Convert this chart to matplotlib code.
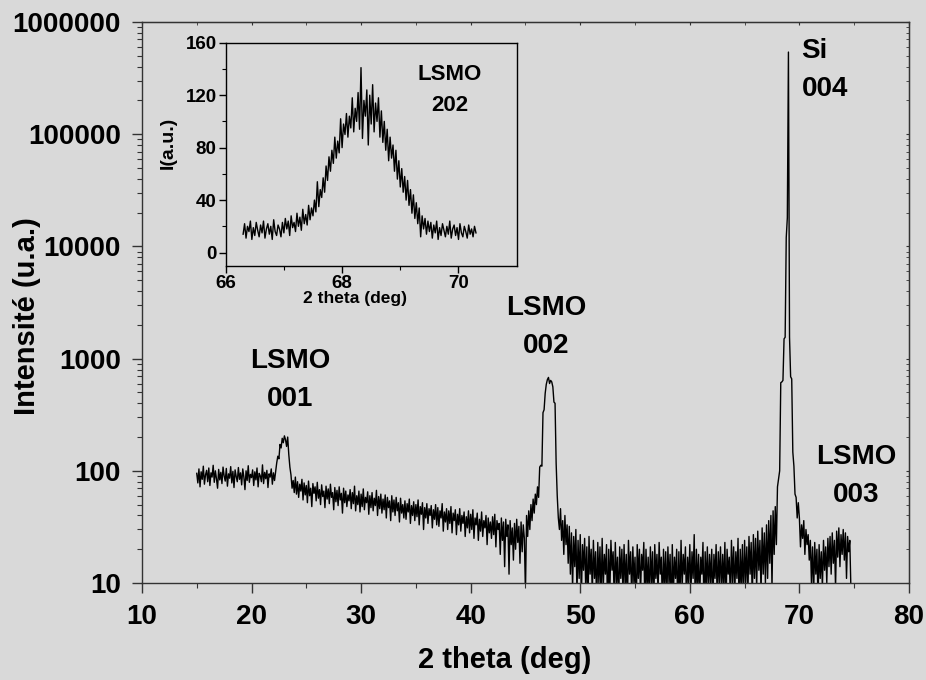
import numpy as np
import matplotlib
matplotlib.use('Agg')
import matplotlib.pyplot as plt
from matplotlib import ticker

plt.rcParams['font.family'] = ['Liberation Sans', 'DejaVu Sans']
plt.rcParams['font.weight'] = 'bold'

BG = '#d9d9d9'

# ---- balayage principal : 2theta de 15.0 a 74.8 par pas de 0.1 deg ----
two_theta = np.arange(150, 749) / 10.0
intensity = [
    95, 78, 104, 72, 98, 84, 110, 76, 92, 101,      # 15
    80, 106, 74, 96, 88, 112, 79, 100, 85, 70,      # 16
    103, 83, 97, 77, 108, 90, 81, 105, 73, 94,      # 17
    86, 109, 78, 99, 71, 102, 89, 80, 107, 84,      # 18
    96, 75, 104, 88, 68, 100, 82, 111, 79, 93,      # 19
    87, 102, 74, 98, 83, 106, 72, 95, 90, 80,       # 20
    113, 77, 97, 85, 101, 71, 94, 88, 104, 76,      # 21
    96, 82, 99, 118, 135, 128, 172, 160, 195, 178,  # 22
    205, 190, 165, 200, 140, 108, 92, 70, 82, 64,   # 23  (LSMO 001)
    88, 62, 80, 58, 76, 66, 84, 55, 78, 61,         # 24
    74, 52, 81, 60, 70, 48, 77, 63, 72, 54,         # 25
    79, 57, 68, 50, 75, 59, 66, 47, 73, 56,         # 26
    69, 51, 76, 58, 64, 45, 71, 53, 67, 49,         # 27
    72, 55, 63, 42, 70, 52, 66, 48, 61, 54,         # 28
    68, 46, 64, 51, 73, 44, 60, 50, 66, 43,         # 29
    62, 48, 69, 45, 58, 52, 65, 41, 60, 47,         # 30
    64, 44, 57, 49, 67, 40, 59, 46, 62, 42,         # 31
    56, 45, 61, 38, 58, 47, 54, 36, 60, 43,         # 32
    55, 40, 58, 44, 52, 35, 57, 42, 50, 38,         # 33
    54, 37, 51, 43, 56, 34, 49, 40, 53, 36,         # 34
    50, 39, 55, 33, 48, 41, 52, 30, 47, 38,         # 35
    51, 34, 46, 40, 49, 31, 45, 37, 50, 33,         # 36
    47, 32, 44, 38, 51, 29, 43, 35, 46, 30,         # 37
    44, 34, 48, 28, 42, 36, 45, 27, 41, 33,         # 38
    46, 29, 40, 34, 43, 26, 39, 31, 44, 28,         # 39
    41, 30, 45, 25, 38, 33, 42, 24, 37, 29,         # 40
    43, 26, 36, 31, 40, 22, 38, 28, 35, 25,         # 41
    39, 27, 41, 21, 36, 30, 34, 18, 38, 24,         # 42
    35, 14, 37, 26, 33, 12, 36, 22, 31, 16,         # 43
    34, 20, 37, 23, 32, 15, 35, 19, 33, 25,         # 44
    8, 40, 26, 44, 30, 50, 36, 56, 42, 62,          # 45
    50, 72, 58, 108, 112, 110, 330, 350, 490, 590,  # 46
    650, 680, 600, 640, 620, 560, 410, 400, 117, 60,  # 47  (LSMO 002)
    38, 30, 46, 24, 36, 18, 40, 22, 33, 15,         # 48
    32, 12, 28, 9, 26, 14, 30, 8, 24, 11,           # 49
    27, 7, 22, 13, 25, 9, 21, 6, 26, 12,            # 50
    20, 8, 24, 11, 19, 6, 23, 10, 21, 7,            # 51
    25, 9, 18, 12, 22, 5, 20, 8, 24, 13,            # 52
    19, 7, 23, 10, 17, 6, 21, 11, 20, 8,            # 53
    22, 9, 18, 6, 24, 12, 19, 7, 21, 10,            # 54
    17, 5, 22, 11, 20, 8, 18, 13, 23, 6,            # 55
    20, 9, 17, 7, 21, 10, 19, 5, 22, 11,            # 56
    18, 8, 23, 12, 17, 6, 20, 9, 19, 7,             # 57
    21, 10, 18, 5, 22, 8, 17, 11, 20, 6,            # 58
    19, 7, 24, 9, 18, 12, 21, 6, 17, 10,            # 59
    22, 8, 19, 11, 27, 6, 20, 9, 18, 7,             # 60
    17, 12, 23, 5, 19, 9, 21, 8, 18, 10,            # 61
    20, 6, 18, 11, 22, 7, 19, 10, 21, 8,            # 62
    18, 9, 23, 6, 20, 12, 17, 7, 24, 10,            # 63
    21, 8, 19, 11, 25, 6, 20, 9, 22, 7,             # 64
    24, 10, 21, 8, 26, 12, 23, 7, 27, 11,           # 65
    25, 9, 29, 13, 24, 8, 31, 12, 28, 10,           # 66
    33, 11, 36, 15, 40, 9, 44, 18, 48, 22,          # 67
    72, 85, 100, 610, 620, 640, 1500, 1550, 12000, 18000,  # 68
    540000, 1550, 690, 660, 147, 110, 62, 58, 38, 52,      # 69  (Si 004)
    38, 21, 33, 25, 36, 18, 30, 22, 27, 16,         # 70
    24, 10, 21, 8, 23, 12, 20, 7, 22, 11,           # 71
    19, 9, 24, 13, 21, 10, 25, 14, 26, 12,          # 72
    28, 15, 24, 9, 29, 17, 31, 14, 27, 18,          # 73
    30, 16, 28, 11, 26, 19, 24, 9, 6,               # 74
]

# ---- zoom sur la raie LSMO 202 : 66.3 -> 70.3 deg, pas de 0.025 ----
theta_202 = np.linspace(66.3, 70.3, 161)
counts_202 = [
    14, 22, 11, 20, 16, 24, 10, 19, 13, 23, 17, 12, 21, 15, 24, 11, 18, 22, 14, 20,
    10, 25, 16, 13, 21, 18, 12, 23,
    15, 26, 18, 24, 13, 28, 19, 23, 16, 30, 20, 27, 17, 33, 22, 29, 21, 36, 25, 34,
    28, 40, 31, 54, 35, 48, 42, 57,
    46, 66, 55, 73, 62, 78, 68, 88,
    72, 85, 76, 102, 80, 98, 90, 106,
    88, 104, 95, 118, 92, 110, 100, 122,
    94, 141, 87, 116, 104, 124, 82, 120,
    98, 128, 92, 114, 100, 118, 88, 108,
    84, 100, 78, 94, 70, 88, 72, 82,
    62, 78, 56, 70, 50, 64, 46, 58,
    40, 55, 36, 48, 30, 44, 26, 38,
    22, 34, 12, 28, 18, 26, 14, 24,
    16, 23, 11, 21, 15, 24, 10, 19, 13, 22, 17, 12, 20, 14, 24, 11, 18, 21, 13, 19,
    10, 22, 15, 12, 20, 16, 11, 21, 14, 18, 12, 20, 15,
]

peak_labels = ['LSMO\n001', 'LSMO\n002', 'Si\n004', 'LSMO\n003']
peak_label_pos = [(23.5, 640), (46.9, 1900), (70.2, 370000), (75.2, 90)]
peak_label_ha = ['center', 'center', 'left', 'center']

W, H = 926, 680
fig = plt.figure(figsize=(W / 100, H / 100), dpi=100, facecolor=BG)

ax = fig.add_axes([0.1533, 0.1426, 0.8283, 0.825], facecolor=BG)
ax.plot(two_theta, intensity, color='black', lw=1.0)
ax.set_yscale('log')
ax.set_xlim(10, 80)
ax.set_ylim(10, 1e6)
ax.xaxis.set_major_locator(ticker.MultipleLocator(10))
ax.xaxis.set_minor_locator(ticker.MultipleLocator(5))
ax.yaxis.set_major_locator(ticker.LogLocator(base=10, numticks=10))
ax.yaxis.set_minor_locator(ticker.LogLocator(base=10, subs=np.arange(2, 10), numticks=20))
ax.yaxis.set_major_formatter(ticker.FuncFormatter(lambda v, p: f'{int(round(v))}'))
ax.yaxis.set_minor_formatter(ticker.NullFormatter())
ax.tick_params(which='major', direction='out', length=7, width=1, labelsize=20, pad=8, color='#333333')
ax.tick_params(which='minor', direction='out', length=3.5, width=0.8, color='#333333')
for sp in ax.spines.values():
    sp.set_color('#333333')
    sp.set_linewidth(1.0)

# petites graduations internes en haut et a droite
top = ax.secondary_xaxis('top')
top.xaxis.set_major_locator(ticker.MultipleLocator(10))
top.xaxis.set_minor_locator(ticker.MultipleLocator(5))
top.tick_params(which='both', direction='in', length=2.5, labeltop=False, color='#333333')
right = ax.secondary_yaxis('right')
right.yaxis.set_major_locator(ticker.LogLocator(base=10, numticks=10))
right.yaxis.set_minor_locator(ticker.LogLocator(base=10, subs=np.arange(2, 10), numticks=20))
right.tick_params(which='both', direction='in', length=2.5, labelright=False, color='#333333')
right.yaxis.set_minor_formatter(ticker.NullFormatter())
right.yaxis.set_major_formatter(ticker.NullFormatter())

# titres des axes places en pixels de la figure
fig.text(505 / W, 1 - 660 / H, '2 theta (deg)', fontsize=21, fontweight='bold',
         ha='center', va='center')
fig.text(27 / W, 1 - 316 / H, 'Intensité (u.a.)', fontsize=21, fontweight='bold',
         ha='center', va='center', rotation=90)

for txt, (px, py), ha in zip(peak_labels, peak_label_pos, peak_label_ha):
    ax.text(px, py, txt, fontsize=20, fontweight='bold', ha=ha, va='center',
            linespacing=1.6, clip_on=False)

# encart
ins = fig.add_axes([0.2437, 0.6093, 0.3143, 0.3279], facecolor=BG)
ins.plot(theta_202, counts_202, color='black', lw=1.0)
ins.set_xlim(66, 71)
ins.set_ylim(-10, 160)
ins.xaxis.set_major_locator(ticker.FixedLocator([66, 68, 70]))
ins.xaxis.set_minor_locator(ticker.FixedLocator([67, 69]))
ins.yaxis.set_major_locator(ticker.MultipleLocator(40))
ins.yaxis.set_minor_locator(ticker.MultipleLocator(20))
ins.tick_params(which='major', direction='out', length=5, width=1, labelsize=13.5, pad=1.5)
ins.tick_params(which='minor', direction='out', length=3, width=0.8)
for sp in ins.spines.values():
    sp.set_color('black')
    sp.set_linewidth(1.0)
fig.text(355 / W, 1 - 299 / H, '2 theta (deg)', fontsize=12.5, fontweight='bold',
         ha='center', va='center')
fig.text(168 / W, 1 - 143 / H, 'I(a.u.)', fontsize=14, fontweight='bold',
         ha='center', va='center', rotation=90)
ins.text(69.85, 124, 'LSMO\n202', fontsize=16, fontweight='bold', ha='center', va='center',
         linespacing=1.6)

fig.savefig('out.png', dpi=100, facecolor=BG)
